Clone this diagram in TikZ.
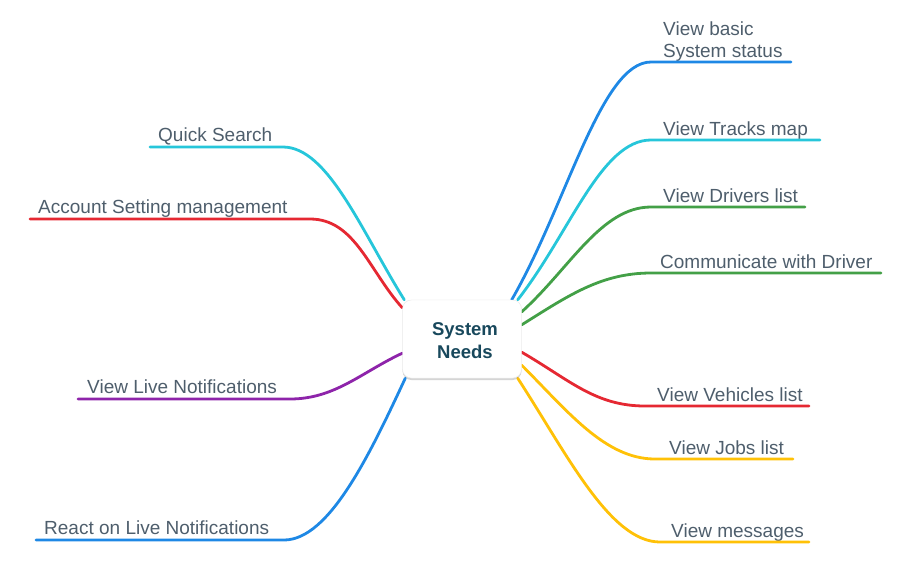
\documentclass[tikz,border=0pt]{standalone}
\usepackage{fontspec}
\setmainfont{Liberation Sans}
\usepackage{tikz}
\usetikzlibrary{positioning, shadows}
\definecolor{txt}{RGB}{78, 94, 108}
\definecolor{hubtxt}{RGB}{24, 72, 92}
\definecolor{cBlue}{RGB}{30, 136, 229}
\definecolor{cCyan}{RGB}{38, 198, 218}
\definecolor{cGreen}{RGB}{67, 160, 71}
\definecolor{cRed}{RGB}{229, 40, 50}
\definecolor{cYellow}{RGB}{255, 193, 7}
\definecolor{cPurple}{RGB}{142, 36, 170}

\begin{document}
\begin{tikzpicture}[x=1pt, y=-1pt,
  hub/.style={draw=black!8, fill=white, rounded corners=9pt,
              minimum width=119pt, minimum height=78pt,
              drop shadow={opacity=0.18, shadow xshift=0pt, shadow yshift=-2pt}},
  hubtext/.style={align=center, text=hubtxt,
              font=\fontsize{18.5}{23}\selectfont\bfseries},
  lbl/.style={font=\fontsize{19}{22}\selectfont, text=txt, inner sep=0pt,
              anchor=base west, align=left},
  branch/.style={line width=2.8pt, line cap=round, #1},
]
  \useasboundingbox (0,0) rectangle (912,582);

  % centre (y axis points down, so upward angles are negative)
  \coordinate (hub) at (462,339);
  \node[hub] (hubbox) at (hub) {};

  % right side
  \coordinate (r1a) at (651,62);  \coordinate (r1b) at (791,62);
  \coordinate (r2a) at (651,140); \coordinate (r2b) at (820,140);
  \coordinate (r3a) at (651,207); \coordinate (r3b) at (805,207);
  \coordinate (r4a) at (651,273); \coordinate (r4b) at (881,273);
  \coordinate (r5a) at (645,406); \coordinate (r5b) at (809,406);
  \coordinate (r6a) at (655,459); \coordinate (r6b) at (793,459);
  \coordinate (r7a) at (660,542); \coordinate (r7b) at (809,542);

  \node[lbl] (r1) at (663,57) {View basic\\System status};
  \node[lbl] (r2) at (663,135) {View Tracks map};
  \node[lbl] (r3) at (663,202) {View Drivers list};
  \node[lbl] (r4) at (660,268) {Communicate with Driver};
  \node[lbl] (r5) at (657,401) {View Vehicles list};
  \node[lbl] (r6) at (669,454) {View Jobs list};
  \node[lbl] (r7) at (671,537) {View messages};

  \draw[branch=cBlue]   ([xshift=-10pt]hubbox.north east) .. controls +(-60:110) and +(-50,0) .. (r1a) -- (r1b);
  \draw[branch=cCyan]   ([xshift=-4pt]hubbox.north east)  .. controls +(-52:85) and +(-50,0) .. (r2a) -- (r2b);
  \draw[branch=cGreen]  ([yshift=-12pt]hubbox.north east) .. controls +(-42:65) and +(-50,0) .. (r3a) -- (r3b);
  \draw[branch=cGreen]  ([yshift=-25pt]hubbox.north east) .. controls +(-32:55) and +(-50,0) .. (r4a) -- (r4b);
  \draw[branch=cRed]    ([yshift=26pt]hubbox.south east)  .. controls +(30:55) and +(-50,0) .. (r5a) -- (r5b);
  \draw[branch=cYellow] ([yshift=13pt]hubbox.south east)  .. controls +(45:65) and +(-50,0) .. (r6a) -- (r6b);
  \draw[branch=cYellow] ([xshift=-4pt]hubbox.south east)  .. controls +(57:90) and +(-50,0) .. (r7a) -- (r7b);

  % left side
  \coordinate (l1a) at (283,147); \coordinate (l1b) at (150,147);
  \coordinate (l2a) at (310,219); \coordinate (l2b) at (30,219);
  \coordinate (l3a) at (290,399); \coordinate (l3b) at (78,399);
  \coordinate (l4a) at (284,540); \coordinate (l4b) at (36,540);

  \node[lbl] (l1) at (158,141) {Quick Search};
  \node[lbl] (l2) at (38,213) {Account Setting management};
  \node[lbl] (l3) at (87,393) {View Live Notifications};
  \node[lbl] (l4) at (44,534) {React on Live Notifications};

  \draw[branch=cCyan]   ([xshift=2pt]hubbox.north west)  .. controls +(-122:80) and +(45,0) .. (l1a) -- (l1b);
  \draw[branch=cRed]    ([yshift=-8pt]hubbox.north west) .. controls +(-132:50) and +(45,0) .. (l2a) -- (l2b);
  \draw[branch=cPurple] ([yshift=25pt]hubbox.south west) .. controls +(155:45) and +(45,0) .. (l3a) -- (l3b);
  \draw[branch=cBlue]   ([xshift=3pt]hubbox.south west)  .. controls +(115:85) and +(45,0) .. (l4a) -- (l4b);

  % hub on top of the branch ends
  \node[hub] (hubtop) at (hub) {};
  \node[hubtext] (hublbl) at ([xshift=3pt,yshift=-2pt]hub) {System\\Needs};
\end{tikzpicture}
\end{document}
